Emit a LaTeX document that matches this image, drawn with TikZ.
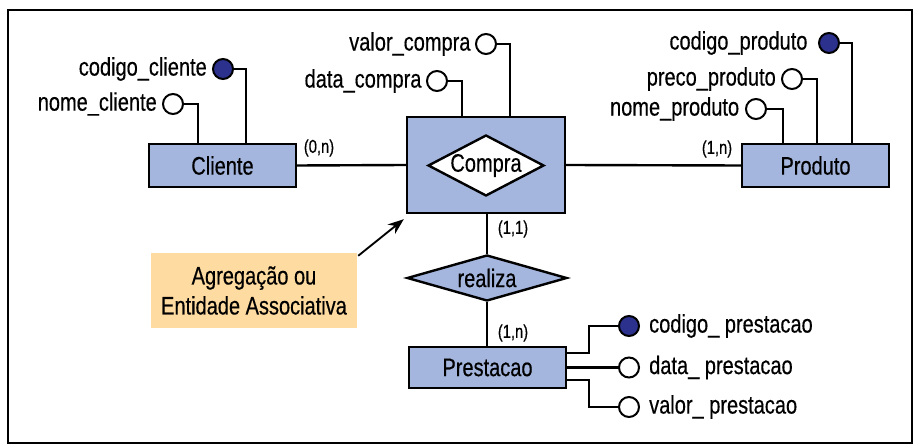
\documentclass[tikz,border=0pt]{standalone}
\usepackage{fontspec}
\setmainfont[FakeStretch=0.79,FakeBold=0.4]{Liberation Sans}
\usepackage{xcolor}
\usetikzlibrary{shapes.geometric,positioning,arrows.meta,calc}

\definecolor{entblue}{RGB}{164,182,222}
\definecolor{keyblue}{RGB}{43,49,140}
\definecolor{notepeach}{RGB}{254,219,160}

\begin{document}
\begin{tikzpicture}[x=0.75pt,y=0.75pt,yscale=-1,xscale=1,line width=1.8pt,
  every node/.style={font=\fontsize{19}{22.5}\selectfont},
  entity/.style={draw, fill=entblue, minimum width=110.25pt, minimum height=32.25pt, inner sep=0pt},
  relship/.style={draw, diamond, inner sep=0pt},
  attr/.style={draw, circle, fill=white, minimum size=15pt, inner sep=0pt, line width=1.5pt},
  keyattr/.style={attr, fill=keyblue},
  attrtext/.style={inner sep=0pt},
  card/.style={font=\fontsize{14}{16}\selectfont, inner sep=0pt}]
\useasboundingbox (0,0) rectangle (923,448);

%Frame
\draw (8,10) rectangle (912,443);

%Entities
\node[entity] (cliente) at (222.5,165.5) {Cliente};
\node[entity] (produto) at (815.5,165.5) {Produto};
\node[entity, minimum width=117.75pt, minimum height=30.75pt] (prestacao) at (487.5,367.5) {Prestacao};

%Aggregation: box round the relationship
\node[draw, fill=entblue, minimum width=118.5pt, minimum height=72pt] (compra) at (486,165) {};
\node[relship, fill=white, shape aspect=1.9, minimum width=87pt, minimum height=45.75pt] (compra-rel) at (486,165.5) {Compra};
\node[relship, fill=entblue, shape aspect=3.5, minimum width=120pt, minimum height=34.5pt] (realiza) at (487,278) {realiza};

%Relationship lines
\draw (cliente.east) -- (compra.west);
\draw (compra.east) -- (produto.west);
\draw (compra.south -| realiza.north) -- (realiza.north);
\draw (realiza.south) -- (prestacao.north -| realiza.south);

%Cardinalities
\node[card] (card-cli) at (319,148) {(0,n)};
\node[card] (card-pro) at (717,149) {(1,n)};
\node[card] (card-com) at (513,229) {(1,1)};
\node[card] (card-pre) at (513,333) {(1,n)};

%Attributes of Cliente
\node[keyattr] (cod-cli) at (223,69) {};
\node[attr] (nom-cli) at (173,104) {};
\node[attrtext, left=3pt of cod-cli] (cod-cli-t) {codigo\_cliente};
\node[attrtext, left=3pt of nom-cli] (nom-cli-t) {nome\_cliente};
\draw (cod-cli.east) -| ([xshift=17.6pt]cliente.north);
\draw (nom-cli.east) -| ([xshift=-18.4pt]cliente.north);

%Attributes of Compra
\node[attr] (val-com) at (486,44) {};
\node[attr] (dat-com) at (437,81) {};
\node[attrtext, left=2.5pt of val-com] (val-com-t) {valor\_compra};
\node[attrtext, left=2.5pt of dat-com] (dat-com-t) {data\_compra};
\draw (val-com.east) -| ([xshift=18pt]compra.north);
\draw (dat-com.east) -| ([xshift=-18pt]compra.north);

%Attributes of Produto
\node[keyattr] (cod-pro) at (829,43) {};
\node[attr] (pre-pro) at (792,79) {};
\node[attr] (nom-pro) at (756,109) {};
\node[attrtext, left=7pt of cod-pro] (cod-pro-t) {codigo\_produto};
\node[attrtext, left=3pt of pre-pro] (pre-pro-t) {preco\_produto};
\node[attrtext, left=3.5pt of nom-pro] (nom-pro-t) {nome\_produto};
\draw (cod-pro.east) -| ([xshift=27.4pt]produto.north);
\draw (pre-pro.east) -| ([xshift=1.1pt]produto.north);
\draw (nom-pro.east) -| ([xshift=-24.4pt]produto.north);

%Attributes of Prestacao
\node[keyattr] (cod-pre) at (629,326) {};
\node[attr] (dat-pre) at (629,367.5) {};
\node[attr] (val-pre) at (629,407) {};
\node[attrtext, right=6pt of cod-pre] (cod-pre-t) {codigo\_ prestacao};
\node[attrtext, right=6pt of dat-pre] (dat-pre-t) {data\_ prestacao};
\node[attrtext, right=6pt of val-pre] (val-pre-t) {valor\_ prestacao};
\draw ($(prestacao.east)+(0,-14.5)$) -- ++(22,0) |- (cod-pre.west);
\draw (prestacao.east) -- (dat-pre.west);
\draw ($(prestacao.east)+(0,12.5)$) -- ++(22,0) |- (val-pre.west);

%Note with arrow
\node[fill=notepeach, minimum width=154.5pt, minimum height=56.25pt, align=center, inner sep=0pt] (note) at (254,290.5) {Agregação ou\\Entidade Associativa};
\draw[-{Stealth[length=12pt,width=9pt]}, line width=1.4pt] ($(note.north east)+(0,4)$) -- ($(compra.south west)+(-2,5)$);

\end{tikzpicture}
\end{document}
